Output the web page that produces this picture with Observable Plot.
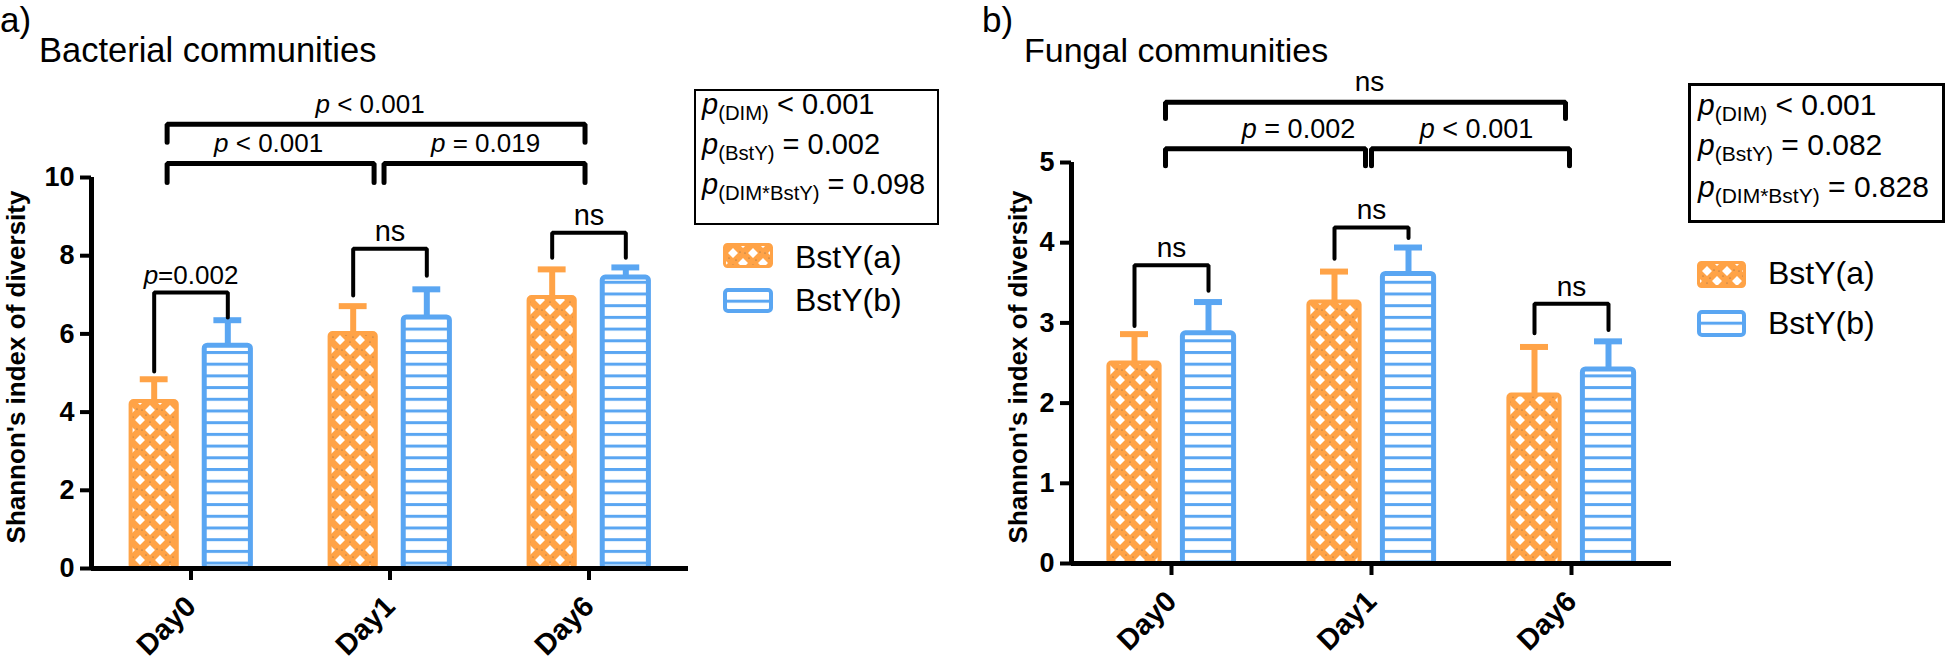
<!DOCTYPE html>
<html>
<head>
<meta charset="utf-8">
<script src="https://cdn.jsdelivr.net/npm/d3@7"></script>
<script src="https://cdn.jsdelivr.net/npm/@observablehq/plot@0.6"></script>
<style>
  html, body { margin: 0; padding: 0; background: #fff; }
  #root { position: relative; width: 1947px; height: 662px; overflow: hidden; font-family: "Liberation Sans", Arial, sans-serif; color: #000; }
  .t { position: absolute; white-space: nowrap; line-height: 1; }
  .box { position: absolute; border: 2px solid #000; box-sizing: border-box; }
  .sub { font-size: 0.7em; position: relative; top: 0.3em; }
  .panel { position: absolute; top: 0; }
</style>
</head>
<body>
<svg width="0" height="0" style="position:absolute">
  <defs>
    <pattern id="diam" width="20" height="20" patternUnits="userSpaceOnUse">
      <rect width="20" height="20" fill="#FFA347"/>
      <path d="M10,5L15,10L10,15L5,10Z M0,-5L5,0L0,5L-5,0Z M20,-5L25,0L20,5L15,0Z M0,15L5,20L0,25L-5,20Z M20,15L25,20L20,25L15,20Z" fill="#fff"/>
      <circle cx="10" cy="2" r="0.6" fill="#444" opacity="0.7"/>
      <circle cx="2" cy="10" r="0.6" fill="#444" opacity="0.7"/>
      <circle cx="17" cy="9" r="0.6" fill="#444" opacity="0.7"/>
      <circle cx="6" cy="15" r="0.6" fill="#444" opacity="0.7"/>
      <circle cx="13" cy="17" r="0.6" fill="#444" opacity="0.7"/>
    </pattern>
    <pattern id="stripes" width="10" height="11.7" patternUnits="userSpaceOnUse">
      <rect width="10" height="11.7" fill="#fff"/>
      <rect y="0" width="10" height="3" fill="#5AA6F2"/>
    </pattern>
  </defs>
</svg>
<div id="root">
  <div class="t" style="left:0px;top:2px;font-size:35px;">a)</div>
  <div class="t" style="left:39px;top:33px;font-size:34.5px;">Bacterial communities</div>
  <div class="t" style="left:982px;top:2px;font-size:35px;">b)</div>
  <div class="t" style="left:1024px;top:33px;font-size:34px;">Fungal communities</div>

  <div class="box" style="left:694px;top:89px;width:245px;height:136px;"></div>
  <div class="t" style="left:702px;top:90px;font-size:29px;"><i>p</i><span class="sub">(DIM)</span> &lt; 0.001</div>
  <div class="t" style="left:702px;top:130px;font-size:29px;"><i>p</i><span class="sub">(BstY)</span> = 0.002</div>
  <div class="t" style="left:702px;top:170px;font-size:29px;"><i>p</i><span class="sub">(DIM*BstY)</span> = 0.098</div>

  <div class="box" style="left:1688px;top:83px;width:257px;height:140px;border-width:3px;"></div>
  <div class="t" style="left:1698px;top:90px;font-size:30px;"><i>p</i><span class="sub">(DIM)</span> &lt; 0.001</div>
  <div class="t" style="left:1698px;top:130px;font-size:30px;"><i>p</i><span class="sub">(BstY)</span> = 0.082</div>
  <div class="t" style="left:1698px;top:172px;font-size:30px;"><i>p</i><span class="sub">(DIM*BstY)</span> = 0.828</div>

  <div id="legA"></div>
  <div id="legB"></div>
  <div id="left" class="panel" style="left:0px;width:700px;"></div>
  <div id="right" class="panel" style="left:960px;width:720px;"></div>
</div>
<script>
// ---------------- data ----------------
const days = ["Day0", "Day1", "Day6"];
const groups = ["BstY(a)", "BstY(b)"];
const yTicksBact = [0, 2, 4, 6, 8, 10];
const yTicksFung = [0, 1, 2, 3, 4, 5];
const yLabel = "Shannon's index of diversity";

const bactMeanA = [4.27, 6.01, 6.93];
const bactSdA   = [0.57, 0.70, 0.72];
const bactMeanB = [5.70, 6.42, 7.44];
const bactSdB   = [0.65, 0.72, 0.26];

const fungMeanA = [2.50, 3.26, 2.10];
const fungSdA   = [0.36, 0.38, 0.60];
const fungMeanB = [2.87, 3.61, 2.42];
const fungSdB   = [0.39, 0.33, 0.35];

// within-day comparisons (BstY(a) vs BstY(b)); levels in data units
const bactPairLabels = ["p=0.002", "ns", "ns"];
const bactPairLevels = [7.06, 8.18, 8.59];
const bactPairFootA  = [5.04, 6.98, 7.95];
const bactPairFootB  = [6.42, 7.49, 7.95];
const fungPairLabels = ["ns", "ns", "ns"];
const fungPairLevels = [3.72, 4.19, 3.24];
const fungPairFootA  = [2.96, 3.80, 2.87];
const fungPairFootB  = [3.40, 4.06, 2.91];

// between-day comparisons (ends and label centres on the day axis, 0 = Day0 … 2 = Day6)
const bactSpanX1     = [-0.12, -0.12, 0.97];
const bactSpanX2     = [1.98, 0.92, 1.98];
const bactSpanTextX  = [0.90, 0.39, 1.48];
const bactSpanLevels = [11.36, 10.36, 10.36];
const bactSpanFoot   = [10.90, 9.87, 9.87];
const bactSpanLabels = ["p < 0.001", "p < 0.001", "p = 0.019"];
const fungSpanX1     = [-0.03, -0.03, 1.0];
const fungSpanX2     = [1.97, 0.97, 1.99];
const fungSpanTextX  = [0.99, 0.635, 1.525];
const fungSpanLevels = [5.75, 5.17, 5.17];
const fungSpanFoot   = [5.55, 4.96, 4.96];
const fungSpanLabels = ["ns", "p = 0.002", "p < 0.001"];

const ORANGE = "#FFA347";
const BLUE = "#5AA6F2";
const FONT = "Liberation Sans, Arial, Helvetica, sans-serif";

function italicP(svg) {
  const ns = "http://www.w3.org/2000/svg";
  svg.querySelectorAll("text").forEach(t => {
    const s = t.textContent;
    if (/^p[ =<]/.test(s)) {
      t.textContent = "";
      const a = document.createElementNS(ns, "tspan");
      a.setAttribute("font-style", "italic");
      a.textContent = "p";
      const b = document.createElementNS(ns, "tspan");
      b.textContent = s.slice(1);
      t.append(a, b);
    }
  });
}

function panel(cfg) {
  const off = 0.185;           // half distance between the two bars of a day
  const rowsA = days.map((d, i) => ({day: d, pos: i - off, mean: cfg.meanA[i], top: cfg.meanA[i] + cfg.sdA[i]}));
  const rowsB = days.map((d, i) => ({day: d, pos: i + off, mean: cfg.meanB[i], top: cfg.meanB[i] + cfg.sdB[i]}));

  // bracket polylines
  const pts = [];
  const labels = [];
  days.forEach((d, i) => {
    const x1 = i - off, x2 = i + off, L = cfg.pairLevels[i];
    pts.push({id: "p" + i, x: x1, y: cfg.pairFootA[i]}, {id: "p" + i, x: x1, y: L},
             {id: "p" + i, x: x2, y: L}, {id: "p" + i, x: x2, y: cfg.pairFootB[i]});
    labels.push({x: i, y: L, text: cfg.pairLabels[i], ns: cfg.pairLabels[i] === "ns"});
  });
  const spanPts = [];
  const spanLabels = [];
  cfg.spanLabels.forEach((lab, k) => {
    const x1 = cfg.spanX1[k], x2 = cfg.spanX2[k], L = cfg.spanLevels[k], F = cfg.spanFoot[k];
    spanPts.push({id: "s" + k, x: x1, y: F}, {id: "s" + k, x: x1, y: L},
                 {id: "s" + k, x: x2, y: L}, {id: "s" + k, x: x2, y: F});
    spanLabels.push({x: cfg.spanTextX[k], y: L, text: lab, ns: lab === "ns"});
  });

  const yMax = cfg.yTicks[cfg.yTicks.length - 1];
  const bw = cfg.barHalf, cw = 0.07;
  const svg = Plot.plot({
    width: cfg.width, height: 662,
    marginLeft: cfg.marginLeft, marginRight: cfg.marginRight,
    marginTop: cfg.marginTop, marginBottom: cfg.marginBottom,
    style: {fontFamily: FONT, background: "transparent", overflow: "visible"},
    x: {domain: [-0.5, 2.5]},
    y: {domain: [0, yMax]},
    marks: [
      // bars
      Plot.rect(rowsA, {x1: d => d.pos - bw, x2: d => d.pos + bw, y1: 0, y2: "mean", fill: "url(#diam)", stroke: ORANGE, strokeWidth: 4, rx: 3}),
      Plot.rect(rowsB, {x1: d => d.pos - bw, x2: d => d.pos + bw, y1: 0, y2: "mean", fill: "url(#stripes)", stroke: BLUE, strokeWidth: 5, rx: 3}),
      // error bars (upper only)
      Plot.ruleX(rowsA, {x: "pos", y1: "mean", y2: "top", stroke: ORANGE, strokeWidth: 6}),
      Plot.ruleY(rowsA, {y: "top", x1: d => d.pos - cw, x2: d => d.pos + cw, stroke: ORANGE, strokeWidth: 6}),
      Plot.ruleX(rowsB, {x: "pos", y1: "mean", y2: "top", stroke: BLUE, strokeWidth: 6}),
      Plot.ruleY(rowsB, {y: "top", x1: d => d.pos - cw, x2: d => d.pos + cw, stroke: BLUE, strokeWidth: 6}),
      // axes
      Plot.ruleY([0], {stroke: "#000", strokeWidth: 5}),
      Plot.ruleX([-0.5], {y1: 0, y2: yMax, stroke: "#000", strokeWidth: 5}),
      Plot.axisY(cfg.yTicks, {tickSize: 11, tickPadding: 6, strokeWidth: 4, tickFormat: d => String(d), fontSize: 27, fontWeight: "bold", label: null, fill: "#000"}),
      Plot.axisX([0, 1, 2], {tickFormat: i => days[i], tickRotate: -45, tickSize: 12, tickPadding: 21, strokeWidth: 4, fontSize: 29, fontWeight: "bold", label: null, fill: "#000"}),
      Plot.text([yLabel], {frameAnchor: "left", rotate: -90, dx: cfg.labelDx, dy: cfg.labelDy, fontSize: 26, fontWeight: "bold", textAnchor: "middle", lineAnchor: "middle", fill: "#000"}),
      // comparison brackets
      Plot.line(pts, {x: "x", y: "y", z: "id", stroke: "#000", strokeWidth: 4, strokeLinejoin: "miter", curve: "linear"}),
      Plot.line(spanPts, {x: "x", y: "y", z: "id", stroke: "#000", strokeWidth: 5, strokeLinejoin: "miter", curve: "linear"}),
      Plot.text(labels, {x: "x", y: "y", text: "text", lineAnchor: "bottom", dy: -8, fontSize: d => d.ns ? cfg.nsFont : cfg.pFont, fill: "#000"}),
      Plot.text(spanLabels, {x: "x", y: "y", text: "text", lineAnchor: "bottom", dy: -11, fontSize: d => d.ns ? cfg.nsFont : cfg.pFont, fill: "#000"})
    ]
  });
  italicP(svg);
  return svg;
}

document.getElementById("left").append(panel({
  meanA: bactMeanA, sdA: bactSdA, meanB: bactMeanB, sdB: bactSdB, yTicks: yTicksBact,
  pairLabels: bactPairLabels, pairLevels: bactPairLevels, pairFootA: bactPairFootA, pairFootB: bactPairFootB,
  spanX1: bactSpanX1, spanX2: bactSpanX2, spanTextX: bactSpanTextX, spanLevels: bactSpanLevels, spanFoot: bactSpanFoot, spanLabels: bactSpanLabels,
  width: 700, marginLeft: 91, marginRight: 12, marginTop: 177, marginBottom: 94,
  barHalf: 0.116, labelDx: -75, labelDy: -6, pFont: 26, nsFont: 29
}));
document.getElementById("right").append(panel({
  meanA: fungMeanA, sdA: fungSdA, meanB: fungMeanB, sdB: fungSdB, yTicks: yTicksFung,
  pairLabels: fungPairLabels, pairLevels: fungPairLevels, pairFootA: fungPairFootA, pairFootB: fungPairFootB,
  spanX1: fungSpanX1, spanX2: fungSpanX2, spanTextX: fungSpanTextX, spanLevels: fungSpanLevels, spanFoot: fungSpanFoot, spanLabels: fungSpanLabels,
  width: 720, marginLeft: 111, marginRight: 9, marginTop: 162, marginBottom: 99,
  barHalf: 0.128, labelDx: -53, labelDy: 4, pFont: 27, nsFont: 28
}));

// legends (HTML)
function legend(el, left, tops, sw, sh, font) {
  const fills = [["url(#diam)", ORANGE, 3], ["url(#stripes)", BLUE, 4]];
  groups.forEach((g, k) => {
    const s = document.createElementNS("http://www.w3.org/2000/svg", "svg");
    s.setAttribute("width", sw); s.setAttribute("height", sh);
    s.style.position = "absolute"; s.style.left = left + "px"; s.style.top = tops[k][0] + "px";
    const r = document.createElementNS("http://www.w3.org/2000/svg", "rect");
    r.setAttribute("x", fills[k][2] / 2); r.setAttribute("y", fills[k][2] / 2);
    r.setAttribute("width", sw - fills[k][2]); r.setAttribute("height", sh - fills[k][2]);
    r.setAttribute("rx", 3);
    r.setAttribute("fill", fills[k][0]); r.setAttribute("stroke", fills[k][1]); r.setAttribute("stroke-width", fills[k][2]);
    s.append(r);
    el.append(s);
    const t = document.createElement("div");
    t.className = "t"; t.style.left = (left + sw + 22) + "px"; t.style.top = tops[k][1] + "px"; t.style.fontSize = font + "px";
    t.textContent = g;
    el.append(t);
  });
}
legend(document.getElementById("legA"), 723, [[243, 241], [288, 284]], 50, 25, 32);
legend(document.getElementById("legB"), 1697, [[261, 257], [310, 307]], 49, 27, 32);
</script>
</body>
</html>
